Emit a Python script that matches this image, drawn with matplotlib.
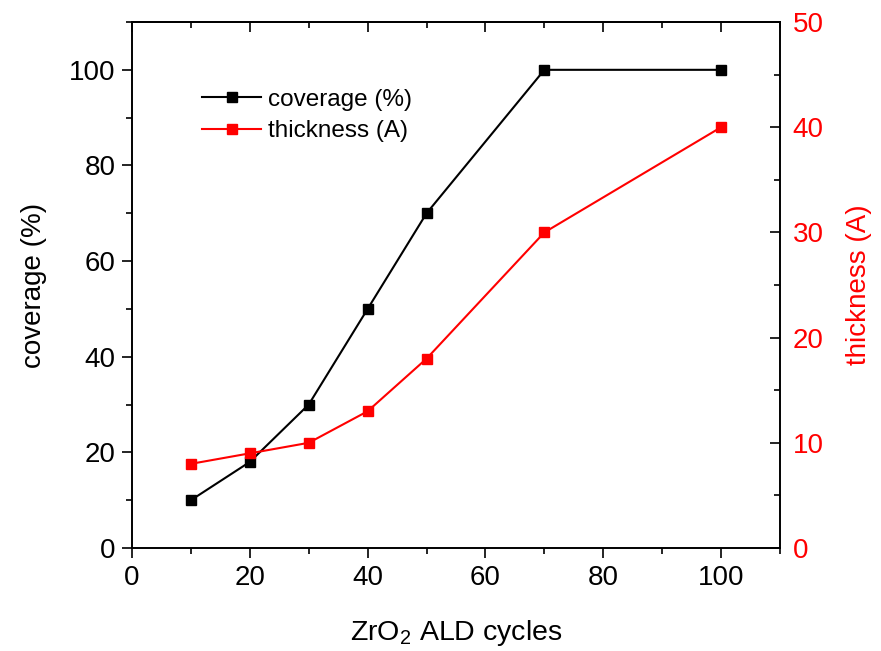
import matplotlib.pyplot as plt
from matplotlib.ticker import MultipleLocator

plt.rcParams['font.family'] = ['Liberation Sans', 'DejaVu Sans']
plt.rcParams['mathtext.default'] = 'regular'

cycles = [10, 20, 30, 40, 50, 70, 100]
coverage = [10, 18, 30, 50, 70, 100, 100]
thickness = [8, 9, 10, 13, 18, 30, 40]

fig = plt.figure(figsize=(8.81, 6.51), dpi=100)
ax = fig.add_axes([0.1498, 0.1582, 0.7356, 0.808])
ax2 = ax.twinx()

l1, = ax.plot(cycles, coverage, '-s', color='black', linewidth=1.5,
              markersize=6.5, label='coverage (%)')
l2, = ax2.plot(cycles, thickness, '-s', color='red', linewidth=1.5,
               markersize=6.5, label='thickness (A)')

ax.set_xlim(0, 110)
ax.set_ylim(0, 110)
ax2.set_ylim(0, 50)

ax.xaxis.set_major_locator(MultipleLocator(20))
ax.xaxis.set_minor_locator(MultipleLocator(10))
ax.yaxis.set_major_locator(MultipleLocator(20))
ax.yaxis.set_minor_locator(MultipleLocator(10))
ax2.yaxis.set_major_locator(MultipleLocator(10))
ax2.yaxis.set_minor_locator(MultipleLocator(5))

for a in (ax, ax2):
    for s in a.spines.values():
        s.set_linewidth(1.2)

ax.tick_params(which='both', direction='out', width=1.2, labelsize=20,
               top=False, right=False)
ax.tick_params(which='major', length=7, pad=5)
ax.tick_params(which='minor', length=4)
# inward ticks mirrored on the top spine
sec = ax.secondary_xaxis('top')
sec.xaxis.set_major_locator(MultipleLocator(20))
sec.xaxis.set_minor_locator(MultipleLocator(10))
sec.tick_params(which='both', direction='in', width=1.2, labeltop=False)
sec.tick_params(which='major', length=7)
sec.tick_params(which='minor', length=4)
sec.spines['top'].set_linewidth(1.2)

ax2.tick_params(which='both', direction='in', width=1.2, labelsize=20,
                labelcolor='red', pad=9)
ax2.tick_params(which='major', length=7)
ax2.tick_params(which='minor', length=4)

ax.set_xlabel('ZrO$_2$ ALD cycles', fontsize=20.5, labelpad=20)
ax.set_ylabel('coverage (%)', fontsize=20, labelpad=16)
ax2.set_ylabel('thickness (A)', fontsize=20, color='red', labelpad=16)

ax.legend(handles=[l1, l2], loc='upper left', bbox_to_anchor=(0.075, 0.915),
          frameon=False, fontsize=17.5, handlelength=2.4, handletextpad=0.3,
          labelspacing=0.4)

fig.savefig('out.png', dpi=100)
